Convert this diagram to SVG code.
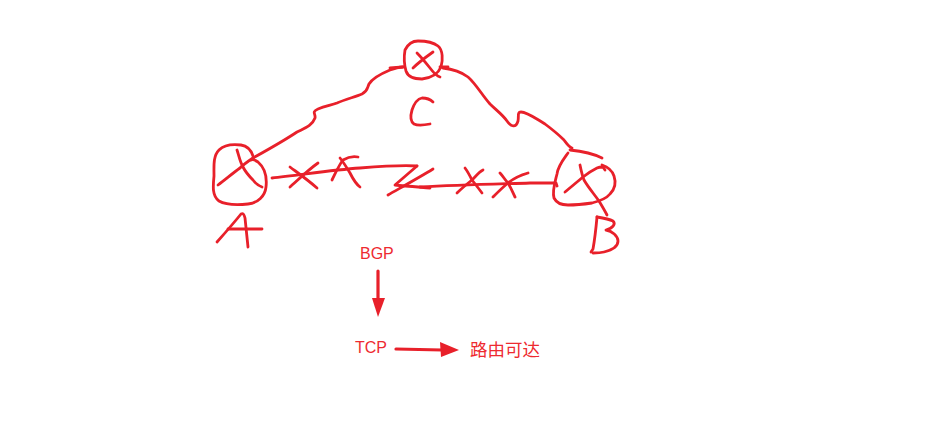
<svg xmlns="http://www.w3.org/2000/svg" width="937" height="432" viewBox="0 0 937 432">
<style>
.s{fill:none;stroke:#e8202a;stroke-width:2.8;stroke-linecap:round;stroke-linejoin:round}
.t{font-family:"Liberation Sans","Noto Sans CJK SC",sans-serif;font-size:16px;fill:#ee2a30}
.c{font-family:"Noto Sans CJK SC","Liberation Sans",sans-serif;font-size:17.5px;fill:#ee2a30}
.a{fill:none;stroke:#e8202a;stroke-width:3.2;stroke-linecap:round}
</style>
<rect width="937" height="432" fill="#ffffff"/>
<g id="connectors">
<path class="s" d="M253,158 C262,153 285,140 297,132 C305,128 312,126 315,118 C316,114 311,112 318,109 C326,106 332,105 337,103 C346,99 355,97 362,94 C368,91 367,88 369,84 C372,79 378,75 390,70 C395,68 399,67 403,67"/>
<path class="s" d="M443,68 C452,69 460,71 468,77 C476,84 482,95 490,104 C496,110 502,114 507,121 C511,127 516,128 518,121 C519,116 517,112 521,112 C527,112 535,118 545,124 C553,130 560,136 564,140 C567,144 569,147 572,148"/>
<path class="s" d="M272,178 C295,176 330,170 360,168 C385,166 405,165 417,166"/>
<path class="s" d="M417,166 L395,185 C405,186 418,187 430,188"/>
<path class="s" d="M433,169 C420,177 402,187 388,195"/>
<path class="s" d="M420,187 C460,185 500,184 530,183 C540,183 548,183 556,183 L557,186"/>
<path class="s" d="M290,167 C298,173 308,180 317,188"/>
<path class="s" d="M290,187 C298,180 308,170 318,163"/>
<path class="s" d="M332,180 C336,172 339,165 343,160 C348,157 353,156 358,157"/>
<path class="s" d="M340,158 C344,163 347,168 350,173 C353,179 356,184 360,187"/>
<path class="s" d="M457,193 C462,188 467,184 472,180 C476,176 479,172 483,170"/>
<path class="s" d="M465,168 C468,172 470,176 472,180 C476,185 479,189 482,193"/>
<path class="s" d="M493,197 C498,192 503,187 508,183 C514,178 521,175 528,173"/>
<path class="s" d="M500,173 C503,176 505,180 508,183 C511,188 513,193 515,197"/>
</g>
<g id="node-C">
<path class="s" d="M405,50 C408,44 412,41 418,41 C426,41 433,42 438,46 C443,50 443,60 441,67 C438,74 431,78 422,79 C414,79 408,77 406,71 C404,64 404,56 405,50"/>
<path class="s" d="M417,53 C422,58 426,63 430,68 C433,72 436,76 440,77"/>
<path class="s" d="M413,68 C419,62 426,57 433,52"/>
<path class="s" d="M390,68 L403,67"/>
<path class="s" d="M440,67 L448,67"/>
<path class="s" d="M433,102 C430,99 426,98 422,98 C417,99 414,104 412,110 C410,117 411,122 414,124 C418,126 425,125 430,124"/>
</g>
<g id="node-A">
<path class="s" d="M253,156 C251,150 248,146 241,145 C233,144 224,145 219,150 C213,156 214,166 214,176 C213,186 212,196 219,201 C226,205 238,205 248,204 C258,203 265,196 266,187 C267,178 265,168 258,162 C255,160 253,159 251,160"/>
<path class="s" d="M237,150 C239,156 240,162 243,167 C246,173 250,177 253,180 C256,184 259,186 262,187"/>
<path class="s" d="M253,158 C247,162 243,165 240,168 C233,173 226,179 218,185"/>
<path class="s" d="M217,242 C225,233 233,224 241,214 C243,213 244,214 245,218 C246,228 247,238 248,247"/>
<path class="s" d="M228,229 L262,229"/>
</g>
<g id="node-B">
<path class="s" d="M570,150 C580,151 592,153 602,158"/>
<path class="s" d="M568,153 C563,160 558,166 557,174 C555,182 552,191 554,198 C557,204 562,205 568,205 C576,205 585,204 592,203 C600,201 606,199 610,194 C615,189 616,182 614,176 C612,170 608,167 602,165"/>
<path class="s" d="M565,192 C571,187 577,182 583,177 C588,173 593,170 597,168 C599,167 601,167 603,167 L605,170"/>
<path class="s" d="M580,165 C581,170 582,175 584,180 C588,187 594,194 599,201 C602,206 605,211 607,215"/>
<path class="s" d="M597,217 C596,228 595,238 593,249 L591,252"/>
<path class="s" d="M597,217 C603,218 609,219 613,221 C616,224 613,228 606,230 C612,231 618,236 618,241 C618,247 612,250 604,252 C600,253 596,253 593,253"/>
</g>
<g id="labels">
<text class="t" x="360" y="259">BGP</text>
<text class="t" x="355" y="353">TCP</text>
<text class="c" x="470" y="356">路由可达</text>
</g>
<g id="arrows">
<path class="a" d="M378,271 L378,300"/>
<path d="M372,298 L385,298 L378,317 Z" fill="#e8202a"/>
<path class="a" d="M396,349 L442,350"/>
<path d="M440,342 L459,350 L441,357 Z" fill="#e8202a"/>
</g>
</svg>
